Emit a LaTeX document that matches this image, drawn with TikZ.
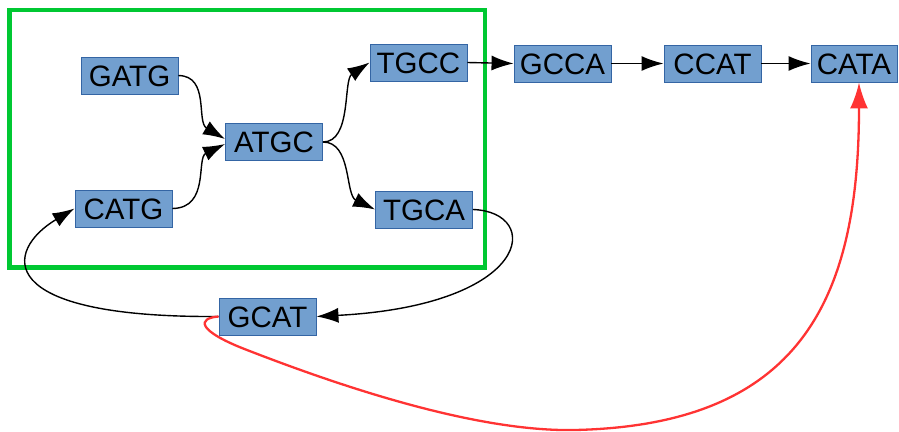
\documentclass[tikz,border=0pt]{standalone}
\usepackage{fontspec}
\setmainfont{Liberation Sans}
\usetikzlibrary{arrows.meta}
\definecolor{nodefill}{HTML}{729FCF}
\definecolor{nodeline}{HTML}{3465A4}
\definecolor{groupgreen}{RGB}{0,200,50}
\definecolor{redline}{HTML}{FF3333}
\tikzset{
  kmer/.style={draw=nodeline, line width=0.9pt, fill=nodefill, inner sep=0pt,
    minimum width=97pt, minimum height=37pt, text height=21pt, text depth=0pt,
    font=\fontsize{29.5}{31}\selectfont},
  edge/.style={line width=1.4pt, -{Latex[length=22pt,width=15pt]}},
  rededge/.style={draw=redline, line width=2.3pt, -{Latex[length=26pt,width=18pt]}},
}
\begin{document}
\begin{tikzpicture}[x=1pt,y=-1pt]
\useasboundingbox (0,0) rectangle (899,431);
\draw[groupgreen, line width=4.5pt] (9.5,10) rectangle (485,267.5);
\node[kmer] (gatg) at (129.5,75.5) {GATG};
\node[kmer] (atgc) at (274,142) {ATGC};
\node[kmer] (catg) at (123.5,208.5) {CATG};
\node[kmer] (tgcc) at (418.5,62.5) {TGCC};
\node[kmer] (tgca) at (424,209.5) {TGCA};
\node[kmer] (gcca) at (562.5,63.5) {GCCA};
\node[kmer] (ccat) at (712.5,63.5) {CCAT};
\node[kmer, minimum width=86pt] (cata) at (854,63.5) {CATA};
\node[kmer] (gcat) at (267.5,316.5) {GCAT};

\draw[edge] (gatg.east) .. controls (210,76) and (196,122) .. ([yshift=3pt]atgc.west);
\draw[edge] (catg.east) .. controls (210,208) and (196,158) .. ([yshift=-2pt]atgc.west);
\draw[edge] (atgc.east) .. controls (352,142) and (343,80) .. (tgcc.west);
\draw[edge] (atgc.east) .. controls (352,142) and (345,195) .. (tgca.west);
\draw[edge] (tgcc.east) -- (gcca.west);
\draw[edge] (gcca.east) -- (ccat.west);
\draw[edge] (ccat.east) -- (cata.west);
\draw[edge] (tgca.east) .. controls (543,212) and (533,305) .. (gcat.east);
\draw[edge] (gcat.west) .. controls (-10,318) and (5,250) .. (catg.west);
\draw[rededge] (gcat.west) .. controls (198,318) and (195,330) .. (247,350)
  .. controls (350,390) and (480,432) .. (575,430)
  .. controls (800,425) and (859,300) .. ([xshift=5pt]cata.south);
\end{tikzpicture}
\end{document}
